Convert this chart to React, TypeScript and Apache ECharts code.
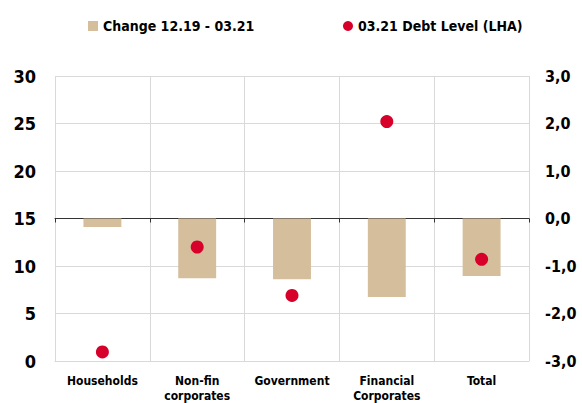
import React, { useEffect, useRef } from "react";
import * as echarts from "echarts";

const categories = ["Households", "Non-fin\ncorporates", "Government", "Financial\nCorporates", "Total"];
const changeValues = [-0.18, -1.26, -1.28, -1.65, -1.21];
const debtLevel = [0.95, 12.0, 6.9, 25.2, 10.7];
const barName = "Change 12.19 - 03.21";
const dotName = "03.21 Debt Level (LHA)";

const FONT = "'Liberation Sans Narrow', 'DejaVu Sans Condensed', sans-serif";
const BAR_COLOR = "#D5BE9C";
const DOT_COLOR = "#D7002B";
const GRID_COLOR = "#D9D9D9";

export default function App() {
  const ref = useRef<HTMLDivElement>(null);
  useEffect(() => {
    if (!ref.current) return;
    const chart = echarts.init(ref.current, undefined, { renderer: "svg" });
    const legendText = { fontFamily: FONT, fontSize: 14, fontWeight: "bold", color: "#000", lineHeight: 18 };
    chart.setOption({
      animation: false,
      backgroundColor: "#fff",
      textStyle: { fontFamily: FONT },
      legend: [
        {
          left: 83,
          top: 12,
          itemWidth: 10,
          itemHeight: 10,
          textStyle: legendText,
          data: [{ name: barName, icon: "rect" }],
        },
        {
          left: 338,
          top: 12,
          itemWidth: 10,
          itemHeight: 10,
          textStyle: legendText,
          data: [{ name: dotName, icon: "circle" }],
        },
      ],
      grid: { left: 55, right: 53, top: 76, bottom: 42, containLabel: false, outerBoundsMode: "none" },
      xAxis: [
        {
          type: "category",
          data: categories,
          position: "bottom",
          axisLine: { show: true, onZero: false, lineStyle: { color: GRID_COLOR } },
          axisTick: { show: false },
          splitLine: { show: true, interval: 0, lineStyle: { color: GRID_COLOR } },
          axisLabel: {
            interval: 0,
            margin: 12,
            fontFamily: FONT,
            fontSize: 12,
            fontWeight: "bold",
            lineHeight: 15,
            color: "#000",
          },
        },
        {
          type: "category",
          data: categories,
          position: "top",
          axisLine: { show: true, onZero: true, onZeroAxisIndex: 1, lineStyle: { color: "#333", width: 1 } },
          axisTick: { show: true, inside: true, length: 4, interval: 0, lineStyle: { color: "#333" } },
          axisLabel: { show: false },
          splitLine: { show: false },
        },
      ],
      yAxis: [
        {
          type: "value",
          min: 0,
          max: 30,
          interval: 5,
          position: "left",
          axisLine: { show: false },
          axisTick: { show: false },
          splitLine: { show: true, lineStyle: { color: GRID_COLOR } },
          axisLabel: { margin: 19, fontFamily: FONT, fontSize: 18, fontWeight: "bold", color: "#000" },
        },
        {
          type: "value",
          min: -3,
          max: 3,
          interval: 1,
          position: "right",
          axisLine: { show: false },
          axisTick: { show: false },
          splitLine: { show: false },
          axisLabel: {
            margin: 16,
            fontFamily: FONT,
            fontSize: 16,
            fontWeight: "bold",
            color: "#000",
            formatter: (v: number) => v.toFixed(1).replace(".", ","),
          },
        },
      ],
      series: [
        {
          name: barName,
          type: "bar",
          xAxisIndex: 0,
          yAxisIndex: 1,
          barWidth: "40%",
          itemStyle: { color: BAR_COLOR },
          data: changeValues,
        },
        {
          name: dotName,
          type: "scatter",
          xAxisIndex: 0,
          yAxisIndex: 0,
          symbol: "circle",
          symbolSize: 13,
          z: 3,
          itemStyle: { color: DOT_COLOR, opacity: 1 },
          data: debtLevel,
        },
      ],
    });
    return () => chart.dispose();
  }, []);
  return (
    <div
      ref={ref}
      style={{ position: "absolute", left: 0, top: 0, width: 582, height: 403 }}
    />
  );
}
